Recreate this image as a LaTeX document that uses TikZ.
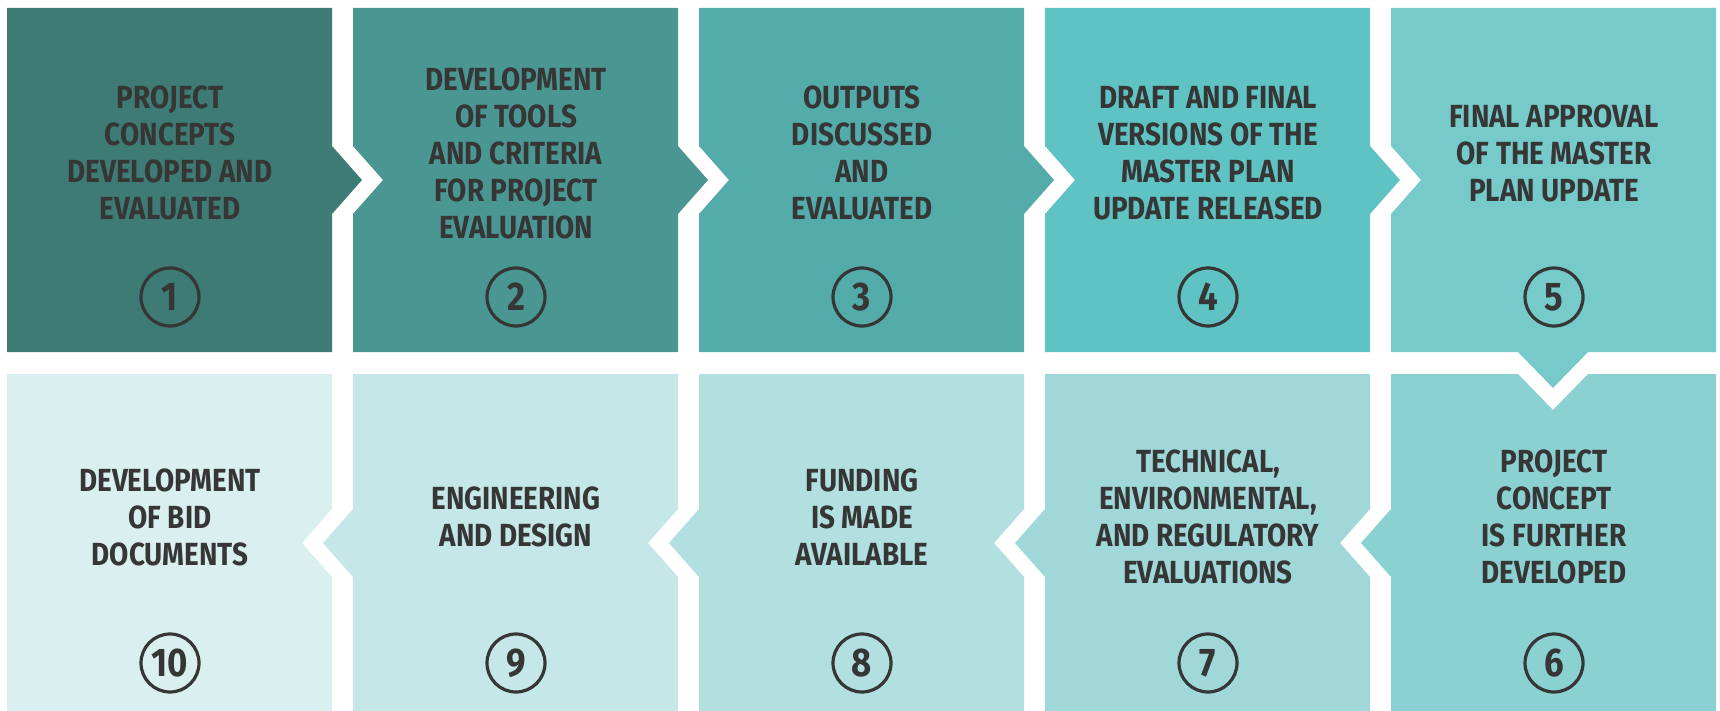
\documentclass[tikz,border=0pt]{standalone}
\usepackage{fontspec}
\setmainfont{Fira Sans}[FakeStretch=0.87]
\usepackage{xcolor}
\usepackage{tikz}
\definecolor{inkgrey}{HTML}{363636}
\definecolor{tealA}{HTML}{3E7B75}
\definecolor{tealB}{HTML}{4A9693}
\definecolor{tealC}{HTML}{53ACAA}
\definecolor{tealD}{HTML}{5EC3C2}
\definecolor{tealE}{HTML}{77CACA}
\definecolor{tealF}{HTML}{8BD1D2}
\definecolor{tealG}{HTML}{A0D8D9}
\definecolor{tealH}{HTML}{B2DFDF}
\definecolor{tealI}{HTML}{C5E7E7}
\definecolor{tealJ}{HTML}{DAEFEF}
\tikzstyle{steptext} = [text=inkgrey, align=center, inner sep=0pt, font=\bfseries\fontsize{32}{37}\selectfont]
\tikzstyle{stepnum} = [circle, draw=inkgrey, line width=3.2pt, minimum size=58pt, inner sep=0pt, text=inkgrey, font=\bfseries\fontsize{40}{40}\selectfont]

\begin{document}
\begin{tikzpicture}[x=1pt, y=-1pt]
\useasboundingbox (0,0) rectangle (1720,711);

%%%% top row (left to right)
% box 1
\fill [tealA] (7,8) -- (332,8) -- (332,146) -- (362,180) -- (332,214) -- (332,352) -- (7,352) -- cycle;
% box 2
\fill [tealB] (353,8) -- (678,8) -- (678,146) -- (708,180) -- (678,214) -- (678,352) -- (353,352)
  -- (353,214) -- (383,180) -- (353,146) -- cycle;
% box 3
\fill [tealC] (699,8) -- (1024,8) -- (1024,146) -- (1054,180) -- (1024,214) -- (1024,352) -- (699,352)
  -- (699,214) -- (729,180) -- (699,146) -- cycle;
% box 4
\fill [tealD] (1045,8) -- (1370,8) -- (1370,146) -- (1400,180) -- (1370,214) -- (1370,352) -- (1045,352)
  -- (1045,214) -- (1075,180) -- (1045,146) -- cycle;
% box 5 (points down)
\fill [tealE] (1391,8) -- (1716,8) -- (1716,352) -- (1588,352) -- (1553,388) -- (1518,352) -- (1391,352)
  -- (1391,214) -- (1421,180) -- (1391,146) -- cycle;

%%%% bottom row (right to left)
% box 6
\fill [tealF] (1391,374) -- (1518,374) -- (1553,410) -- (1588,374) -- (1716,374) -- (1716,711) -- (1391,711)
  -- (1391,577) -- (1361,543) -- (1391,509) -- cycle;
% box 7
\fill [tealG] (1045,374) -- (1370,374) -- (1370,509) -- (1340,543) -- (1370,577) -- (1370,711) -- (1045,711)
  -- (1045,577) -- (1015,543) -- (1045,509) -- cycle;
% box 8
\fill [tealH] (699,374) -- (1024,374) -- (1024,509) -- (994,543) -- (1024,577) -- (1024,711) -- (699,711)
  -- (699,577) -- (669,543) -- (699,509) -- cycle;
% box 9
\fill [tealI] (353,374) -- (678,374) -- (678,509) -- (648,543) -- (678,577) -- (678,711) -- (353,711)
  -- (353,577) -- (323,543) -- (353,509) -- cycle;
% box 10
\fill [tealJ] (7,374) -- (332,374) -- (332,509) -- (302,543) -- (332,577) -- (332,711) -- (7,711) -- cycle;

%%%% labels
\node [steptext] at (170,153) (t1) {PROJECT\\CONCEPTS\\DEVELOPED AND\\EVALUATED};
\node [steptext] at (516,153) (t2) {DEVELOPMENT\\OF TOOLS\\AND CRITERIA\\FOR PROJECT\\EVALUATION};
\node [steptext] at (862,153) (t3) {OUTPUTS\\DISCUSSED\\AND\\EVALUATED};
\node [steptext] at (1208,153) (t4) {DRAFT AND FINAL\\VERSIONS OF THE\\MASTER PLAN\\UPDATE RELEASED};
\node [steptext] at (1554,153) (t5) {FINAL APPROVAL\\OF THE MASTER\\PLAN UPDATE};
\node [steptext] at (1554,517) (t6) {PROJECT\\CONCEPT\\IS FURTHER\\DEVELOPED};
\node [steptext] at (1208,517) (t7) {TECHNICAL,\\ENVIRONMENTAL,\\AND REGULATORY\\EVALUATIONS};
\node [steptext] at (862,517) (t8) {FUNDING\\IS MADE\\AVAILABLE};
\node [steptext] at (516,517) (t9) {ENGINEERING\\AND DESIGN};
\node [steptext] at (170,517) (t10) {DEVELOPMENT\\OF BID\\DOCUMENTS};

%%%% numbers
\node [stepnum] at (170,297) (n1) {1};
\node [stepnum] at (516,297) (n2) {2};
\node [stepnum] at (862,297) (n3) {3};
\node [stepnum] at (1208,297) (n4) {4};
\node [stepnum] at (1554,297) (n5) {5};
\node [stepnum] at (1554,663) (n6) {6};
\node [stepnum] at (1208,663) (n7) {7};
\node [stepnum] at (862,663) (n8) {8};
\node [stepnum] at (516,663) (n9) {9};
\node [stepnum] at (170,663) (n10) {10};
\end{tikzpicture}
\end{document}
